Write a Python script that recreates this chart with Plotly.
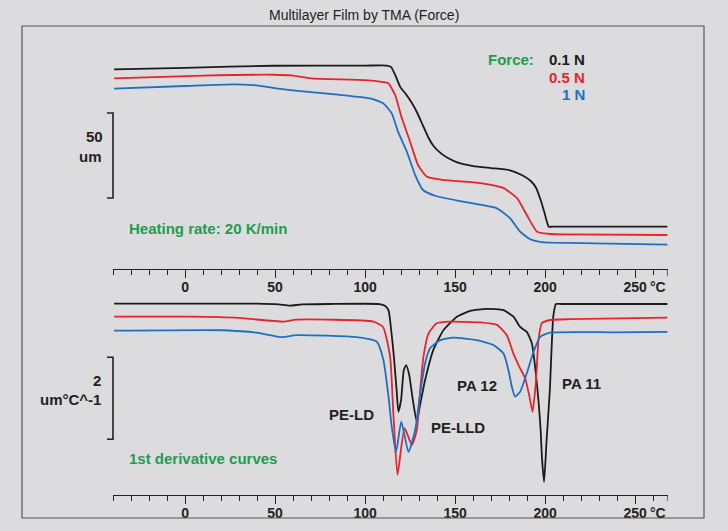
import plotly.graph_objects as go

# ---------------- data ----------------
tma_black_T = [-39.4, 0, 49, 100, 112, 114.5, 117, 119.5, 123, 126, 129, 132, 135, 138, 142, 146, 152, 160, 170, 180, 187, 192, 195, 197.5, 199.5, 201, 202, 204, 215, 268]
tma_black_um = [116.9, 117.8, 119.0, 119.1, 119.1, 118.2, 112.9, 106.6, 101.8, 97.1, 91.2, 84.1, 77.1, 71.8, 67.6, 64.7, 61.8, 60.0, 58.8, 57.6, 54.7, 51.2, 47.1, 40.0, 32.9, 27.1, 24.3, 24.3, 24.3, 24.3]

tma_red_T = [-39.4, 10, 49, 60, 70, 100, 110, 112.8, 116.7, 120.4, 125, 129.4, 134.3, 143.3, 163.9, 176.7, 184.3, 189.8, 195.4, 199.5, 202.8, 210, 268]
tma_red_um = [111.6, 113.2, 113.7, 113.2, 111.6, 110.6, 109.4, 108.8, 101.8, 88.2, 74.3, 60.6, 53.7, 51.8, 50.0, 47.1, 41.2, 31.2, 21.4, 20.3, 20.0, 19.8, 19.4]

tma_blue_T = [-39.4, 0, 27, 38, 55, 70, 85, 102.8, 110, 114.8, 118.3, 123.2, 127.8, 132.2, 138.9, 154.4, 173.2, 180.6, 186.1, 191.7, 197, 204.4, 268]
tma_blue_um = [105.5, 107.1, 108.1, 107.6, 105.1, 103.5, 102.0, 99.8, 96.9, 91.0, 80.2, 68.4, 54.7, 45.9, 42.5, 39.0, 35.1, 29.2, 21.4, 16.9, 15.4, 14.9, 13.8]

der_black_T = [-39.4, 40, 52, 58, 65, 80, 108, 111, 113, 114.5, 116, 117.5, 118.5, 120, 121.5, 122.8, 124.5, 126.5, 128.7, 130.5, 133.3, 137.9, 143.5, 151, 158.3, 167.6, 176.9, 182.4, 186.1, 189.8, 192.6, 195.4, 197.5, 198.2, 199.4, 200.8, 202.6, 204.5, 206, 209, 220, 268]
der_black_v = [4.72, 4.72, 4.70, 4.67, 4.70, 4.71, 4.71, 4.67, 4.56, 4.07, 3.42, 2.61, 2.08, 2.37, 3.10, 3.22, 2.98, 2.37, 1.84, 2.24, 2.85, 3.59, 4.07, 4.40, 4.54, 4.59, 4.56, 4.40, 4.15, 4.03, 3.75, 2.77, 1.63, 0.98, 0.37, 1.39, 2.61, 4.40, 4.71, 4.71, 4.71, 4.71]

der_red_T = [-39.4, 2.8, 30, 54.6, 62, 104.6, 110, 113.9, 115.7, 118, 121.9, 126, 128.7, 130.6, 132.4, 135.2, 139.8, 147.2, 163.9, 173.2, 178.7, 182.4, 186.1, 188.9, 191.3, 193, 194.8, 196.3, 198.1, 202.8, 213.9, 268]
der_red_v = [4.40, 4.40, 4.37, 4.28, 4.33, 4.28, 4.15, 3.42, 2.04, 0.54, 1.68, 1.27, 1.63, 2.61, 3.42, 3.99, 4.24, 4.28, 4.26, 4.20, 3.95, 3.50, 3.14, 2.90, 2.45, 2.08, 2.77, 3.83, 4.24, 4.32, 4.34, 4.38]

der_blue_T = [-39.4, 21.3, 39.8, 53.7, 62, 95.4, 106.5, 110.2, 113, 114.8, 117.2, 120.1, 124.1, 127.8, 130.6, 133.3, 136.1, 141.7, 149, 162, 171.3, 176.9, 179.6, 181.5, 183.3, 186.1, 189.8, 193.5, 197.2, 202.8, 237.8, 268]
der_blue_v = [4.06, 4.07, 4.01, 3.90, 3.95, 3.90, 3.79, 3.34, 2.45, 1.71, 1.10, 1.84, 1.10, 1.63, 2.53, 3.26, 3.63, 3.83, 3.89, 3.83, 3.71, 3.50, 3.10, 2.69, 2.45, 2.57, 3.02, 3.54, 3.91, 4.01, 4.02, 4.03]

major_ticks = [0, 50, 100, 150, 200, 250]
major_labels = ["<b>0</b>", "<b>50</b>", "<b>100</b>", "<b>150</b>", "<b>200</b>", "<b>250</b>"]

# ---------------- styles ----------------
BG = "#dcdcde"
BLACK = "#1b1b1b"
RED = "#e8232b"
BLUE = "#1f6fbf"
GREEN = "#1f9c4e"
TXT = "#222222"
FONT = "Liberation Sans, Arial, sans-serif"
LW = 1.8

fig = go.Figure()
for T, v, c in [(tma_black_T, tma_black_um, BLACK), (tma_red_T, tma_red_um, RED), (tma_blue_T, tma_blue_um, BLUE)]:
    fig.add_trace(go.Scatter(x=T, y=v, mode="lines", line=dict(color=c, width=LW, shape="spline", smoothing=0.5),
                             xaxis="x", yaxis="y", showlegend=False))
for T, v, c in [(der_black_T, der_black_v, BLACK), (der_red_T, der_red_v, RED), (der_blue_T, der_blue_v, BLUE)]:
    fig.add_trace(go.Scatter(x=T, y=v, mode="lines", line=dict(color=c, width=LW, shape="spline", smoothing=0.5),
                             xaxis="x2", yaxis="y2", showlegend=False))

W, H = 728, 531
def px(x):
    return x / W
def py(y):
    return 1 - y / H

xdom = [px(113), px(667.6)]
xcommon = dict(range=[-40, 268], domain=xdom, showgrid=False, zeroline=False,
               showline=True, linecolor=TXT, linewidth=1.4,
               ticks="outside", ticklen=8, tickwidth=1.3, tickcolor=TXT,
               tickmode="array", tickvals=major_ticks, ticktext=major_labels,
               ticklabelstandoff=-3,
               tickfont=dict(family=FONT, size=14, color=TXT),
               minor=dict(ticks="outside", ticklen=5, tickwidth=1.1, tickcolor=TXT, dtick=10, tick0=0))

fig.update_layout(
    width=W, height=H, margin=dict(l=0, r=0, t=0, b=0),
    paper_bgcolor=BG, plot_bgcolor="rgba(0,0,0,0)",
    font=dict(family=FONT, color=TXT),
    xaxis=dict(anchor="y", **xcommon),
    yaxis=dict(domain=[py(269), py(26)], range=[-0.6, 142.4], visible=False, fixedrange=True),
    xaxis2=dict(anchor="y2", **xcommon),
    yaxis2=dict(domain=[py(495), py(295)], range=[0.05, 4.93], visible=False, fixedrange=True),
)

shapes = []
# outer frame
shapes.append(dict(type="rect", xref="paper", yref="paper", x0=px(22), x1=px(704), y0=py(518), y1=py(26),
                   line=dict(color="#555555", width=1.2)))
# end ticks at right end of both axes
for xr, yr in [("x", "y"), ("x2", "y2")]:
    shapes.append(dict(type="line", xref=xr, yref=yr + " domain", x0=268, x1=268, y0=0, y1=-0.03,
                       line=dict(color=TXT, width=1.3)))
# scale brackets
for yr, y0, y1 in [("y", 41.2, 91.2), ("y2", 1.41, 3.41)]:
    shapes.append(dict(type="path", xref="paper", yref=yr,
                       path=f"M {px(107)} {y0} L {px(113)} {y0} L {px(113)} {y1} L {px(107)} {y1}",
                       line=dict(color=TXT, width=1.6)))
fig.update_layout(shapes=shapes)

ann = []
def A(text, x, y, xref, yref, color=TXT, size=15, xanchor="center", bold=True):
    ann.append(dict(text=(f"<b>{text}</b>" if bold else text), x=x, y=y, xref=xref, yref=yref,
                    showarrow=False, xanchor=xanchor, yanchor="middle",
                    font=dict(family=FONT, size=size, color=color)))

A("Multilayer Film by TMA (Force)", 0.5, py(15), "paper", "paper", size=14, bold=False)
# unit labels for the tick rows
A("°C", 268, py(287), "x", "paper", size=14, xanchor="right")
A("°C", 268, py(513), "x2", "paper", size=14, xanchor="right")
# legend text
A("Force:", 181.1, 122.9, "x", "y", color=GREEN)
A("0.1 N", 223.5, 122.9, "x", "y", color=BLACK, xanchor="right")
A("0.5 N", 223.5, 112.2, "x", "y", color=RED, xanchor="right")
A("1 N", 223.5, 101.8, "x", "y", color=BLUE, xanchor="right")
A("Heating rate: 20 K/min", 12.8, 23.4, "x", "y", color=GREEN)
A("50", px(105), 77.2, "paper", "y", xanchor="right")
A("um", px(104), 65.5, "paper", "y", xanchor="right")
A("2", px(103), 2.85, "paper", "y2", xanchor="right")
A("um°C^-1", px(103), 2.37, "paper", "y2", xanchor="right")
A("1st derivative curves", 10, 0.94, "x2", "y2", color=GREEN)
A("PE-LD", 92.2, 2.02, "x2", "y2")
A("PE-LLD", 151.4, 1.69, "x2", "y2")
A("PA 12", 162.2, 2.71, "x2", "y2")
A("PA 11", 220, 2.76, "x2", "y2")
fig.update_layout(annotations=ann)

fig.write_html("out.html", config={"displayModeBar": False},
               post_script="document.body.style.margin='0px';document.body.style.overflow='hidden';")
